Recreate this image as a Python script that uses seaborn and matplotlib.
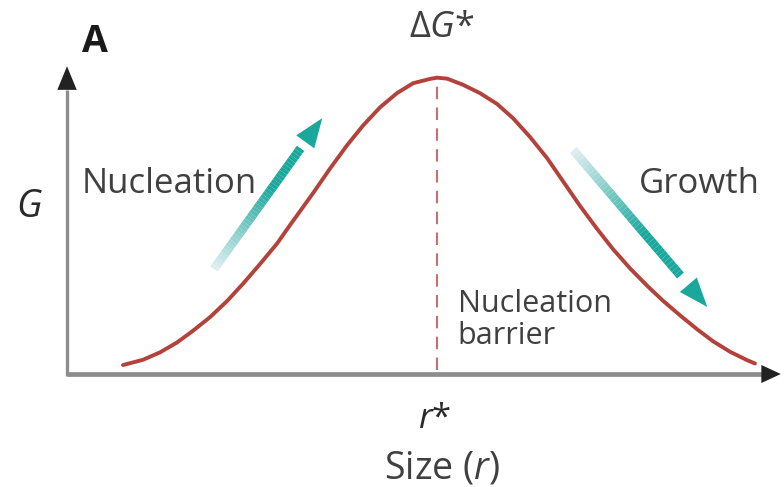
# nucleation barrier sketch: G vs size r
import numpy as np
import pandas as pd
import matplotlib
matplotlib.use("Agg")
import matplotlib.pyplot as plt
from matplotlib.collections import LineCollection
import seaborn as sns

# curve (arbitrary units, axis 0..100)
r_vals = [7.85, 10.66, 13.04, 15.43, 17.67, 20.06, 22.44, 24.68, 27.07, 29.45,
          31.28, 34.50, 36.89, 39.27, 41.51, 43.90, 46.28, 48.53, 50.91, 51.89,
          53.30, 55.54, 57.92, 60.31, 62.55, 64.94, 67.32, 69.56, 71.95, 74.33,
          76.58, 78.96, 81.35, 83.59, 85.97, 88.36, 90.60, 92.99, 95.37, 96.49]
g_vals = [2.9, 4.6, 7.0, 10.2, 14.0, 18.4, 23.6, 29.2, 35.6, 42.2,
          48.2, 58.5, 66.5, 74.0, 80.4, 86.3, 90.9, 94.1, 95.5, 95.9,
          95.6, 93.6, 90.9, 87.4, 82.8, 76.7, 69.9, 62.4, 54.4, 47.0,
          40.4, 34.2, 28.6, 23.7, 19.0, 14.5, 10.6, 7.2, 4.5, 3.4]

side_labels = ["Nucleation", "Growth"]
barrier_label = "Nucleation\nbarrier"

RED = "#b3423b"
TEAL = "#1aa89c"
GREY = "#8d8d8d"
TXT = "#404040"

sns.set_style("white")
plt.rcParams["font.family"] = ["Open Sans", "DejaVu Sans"]
plt.rcParams["mathtext.fontset"] = "custom"
plt.rcParams["mathtext.rm"] = "Open Sans"
plt.rcParams["mathtext.it"] = "Open Sans:italic"

df = pd.DataFrame({"r": r_vals, "G": g_vals})
i_peak = int(np.argmax(g_vals))
r_star, g_star = r_vals[i_peak], g_vals[i_peak]

fig = plt.figure(figsize=(7.84, 4.87), dpi=100)
ax = fig.add_axes([0, 0, 1, 1])
ax.set_xlim(-9.40, 100.56)
ax.set_ylim(-36.57, 121.04)
ax.axis("off")

# axes drawn by hand with arrow heads
ax.plot([0, 97.5], [0, 0], color=GREY, lw=3.4, solid_capstyle="butt", zorder=2)
ax.plot([0, 0], [-0.5, 92], color=GREY, lw=2.4, solid_capstyle="butt", zorder=2)
ax.annotate("", xy=(100.5, 0), xytext=(97.0, 0),
            arrowprops=dict(arrowstyle="-|>,head_length=1.4,head_width=0.65",
                            color="#222222", lw=0, mutation_scale=10))
ax.annotate("", xy=(0, 100.5), xytext=(0, 91.0),
            arrowprops=dict(arrowstyle="-|>,head_length=1.7,head_width=0.7",
                            color="#222222", lw=0, mutation_scale=10))

# dashed line at r*
ax.plot([r_star, r_star], [1.3, g_star - 0.8], color="#c87070", lw=1.5,
        dashes=(6, 4), zorder=2)

sns.lineplot(data=df, x="r", y="G", ax=ax, color=RED, lw=2.8, zorder=4,
             sort=False, legend=False)
ax.lines[-1].set_solid_capstyle("round")
ax.lines[-1].set_solid_joinstyle("round")


def fading_arrow(ax, start, end, n=40):
    # shaft fades from almost white at the tail to teal near the head
    frac = 0.8
    xe = start[0] + (end[0] - start[0]) * frac
    ye = start[1] + (end[1] - start[1]) * frac
    xs = np.linspace(start[0], xe, n + 1)
    ys = np.linspace(start[1], ye, n + 1)
    segs = [[(xs[k], ys[k]), (xs[k + 1], ys[k + 1])] for k in range(n)]
    base = np.array(matplotlib.colors.to_rgb(TEAL))
    light = np.array([0.87, 0.93, 0.94])
    cols = []
    for k in range(n):
        t = min(1.0, (k / n) / 0.65)
        cols.append(light * (1 - t) + base * t)
    lc = LineCollection(segs, colors=cols, linewidths=6.5, capstyle="butt", zorder=3)
    ax.add_collection(lc)
    ax.annotate("", xy=end, xytext=(xe, ye),
                arrowprops=dict(arrowstyle="-|>,head_length=2.1,head_width=0.8",
                                color=TEAL, lw=0, mutation_scale=10,
                                shrinkA=0, shrinkB=0), zorder=3)


fading_arrow(ax, (20.6, 34.0), (35.8, 82.8))
fading_arrow(ax, (71.0, 72.5), (89.8, 21.7))

# labels
ax.text(3.9, 107.6, "A", fontsize=27, fontweight="bold", color="#1a1a1a",
        ha="center", va="center")
ax.text(52.6, 112.0, r"$\Delta G$*", fontsize=26, color=TXT,
        ha="center", va="center")
ax.text(-5.2, 54.0, r"$G$", fontsize=27, color="#2a2a2a",
        ha="center", va="center")
ax.text(2.1, 61.6, side_labels[0], fontsize=25, color=TXT, ha="left", va="center")
ax.text(97.2, 61.6, side_labels[1], fontsize=25, color=TXT, ha="right", va="center")
ax.text(54.8, 17.5, barrier_label, fontsize=22, color=TXT, ha="left",
        va="center", linespacing=1.1)
ax.text(51.6, -14.5, r"$r$*", fontsize=25, color="#2a2a2a",
        ha="center", va="center")
ax.text(52.6, -30.5, r"Size ($r$)", fontsize=27, color=TXT,
        ha="center", va="center")

fig.savefig("out.png", dpi=100)
